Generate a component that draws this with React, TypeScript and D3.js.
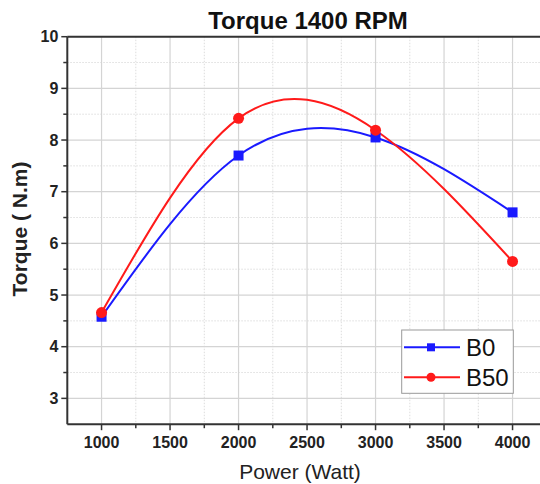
import React from "react";
import * as d3 from "d3";

const powers = [1000, 2000, 3000, 4000];
const torqueB0 = [4.58, 7.7, 8.05, 6.6];
const torqueB50 = [4.66, 8.42, 8.19, 5.65];
const xTicks = [1000, 1500, 2000, 2500, 3000, 3500, 4000];
const yTicks = [3, 4, 5, 6, 7, 8, 9, 10];
const seriesNames = ["B0", "B50"];

export default function App() {
  const W = 540, H = 484;
  const left = 67.3, top = 36.7, bottom = 424.2;
  const x = d3.scaleLinear().domain([750, 4250]).range([left, left + 3500 * 0.137]);
  const y = d3.scaleLinear().domain([2.5, 10]).range([bottom, top]);
  const xMinor = d3.range(1250, 4251, 500);
  const yMinor = d3.range(3.5, 10, 1);
  const line = d3.line<number>().x((_, i) => x(powers[i])).y((d) => y(d)).curve(d3.curveNatural);
  const blue = "#1a1aff";
  const red = "#ff1a1a";
  const right = x(4250);
  const font = "Arial, 'Liberation Sans', sans-serif";

  return (
    <svg width={W} height={H} style={{ position: "absolute", left: 0, top: 0, background: "#fff" }} fontFamily={font}>
      {/* grid */}
      {xMinor.map((v) => (
        <line key={"xm" + v} x1={x(v)} x2={x(v)} y1={top} y2={bottom} stroke="#ddd" strokeDasharray="1.5,1.5" strokeWidth={1} />
      ))}
      {yMinor.map((v) => (
        <line key={"ym" + v} x1={left} x2={right} y1={y(v)} y2={y(v)} stroke="#ddd" strokeDasharray="1.5,1.5" strokeWidth={1} />
      ))}
      {xTicks.map((v) => (
        <line key={"xg" + v} x1={x(v)} x2={x(v)} y1={top} y2={bottom} stroke="#d4d4d4" strokeWidth={1.2} />
      ))}
      {yTicks.map((v) => (
        <line key={"yg" + v} x1={left} x2={right} y1={y(v)} y2={y(v)} stroke="#d4d4d4" strokeWidth={1.2} />
      ))}
      {/* axes */}
      <line x1={left} x2={right} y1={top} y2={top} stroke="#333" strokeWidth={2} />
      <line x1={left} x2={right} y1={bottom} y2={bottom} stroke="#333" strokeWidth={2} />
      <line x1={left} x2={left} y1={top} y2={bottom} stroke="#333" strokeWidth={2} />
      {yTicks.map((v) => (
        <g key={"yt" + v}>
          <line x1={left - 6} x2={left} y1={y(v)} y2={y(v)} stroke="#333" strokeWidth={1.5} />
          <text x={left - 9} y={y(v)} dy="0.35em" textAnchor="end" fontSize={16} fontWeight="bold" fill="#222">{v}</text>
        </g>
      ))}
      {yMinor.map((v) => (
        <line key={"ymt" + v} x1={left - 4} x2={left} y1={y(v)} y2={y(v)} stroke="#333" strokeWidth={1.5} />
      ))}
      {xTicks.map((v) => (
        <g key={"xt" + v}>
          <line x1={x(v)} x2={x(v)} y1={bottom} y2={bottom + 6} stroke="#333" strokeWidth={1.5} />
          <text x={x(v)} y={bottom + 24} textAnchor="middle" fontSize={16} fontWeight="bold" fill="#222">{v}</text>
        </g>
      ))}
      {xMinor.map((v) => (
        <line key={"xmt" + v} x1={x(v)} x2={x(v)} y1={bottom} y2={bottom + 4} stroke="#333" strokeWidth={1.5} />
      ))}
      {/* titles */}
      <text x={308} y={29} textAnchor="middle" fontSize={24} fontWeight="bold" fill="#111">Torque 1400 RPM</text>
      <text x={300} y={479} textAnchor="middle" fontSize={21} fill="#222">Power (Watt)</text>
      <text transform={`translate(27,${229}) rotate(-90)`} textAnchor="middle" fontSize={21} fontWeight="bold" fill="#222">Torque ( N.m)</text>
      {/* lines */}
      <path d={line(torqueB0) || ""} fill="none" stroke={blue} strokeWidth={2} />
      <path d={line(torqueB50) || ""} fill="none" stroke={red} strokeWidth={2} />
      {torqueB0.map((v, i) => (
        <rect key={"b" + i} x={x(powers[i]) - 5} y={y(v) - 5} width={10} height={10} fill={blue} />
      ))}
      {torqueB50.map((v, i) => (
        <circle key={"r" + i} cx={x(powers[i])} cy={y(v)} r={5.5} fill={red} />
      ))}
      {/* legend */}
      <rect x={401.7} y={330} width={111.6} height={63.3} fill="#fff" stroke="#999" strokeWidth={1} />
      <line x1={404} x2={460} y1={347.3} y2={347.3} stroke={blue} strokeWidth={2} />
      <rect x={427} y={343.3} width={8} height={8} fill={blue} />
      <text x={466} y={347.3} dy="0.36em" fontSize={24} fill="#111">{seriesNames[0]}</text>
      <line x1={404} x2={460} y1={377.3} y2={377.3} stroke={red} strokeWidth={2} />
      <circle cx={431} cy={377.3} r={4.5} fill={red} />
      <text x={466} y={377.3} dy="0.36em" fontSize={24} fill="#111">{seriesNames[1]}</text>
    </svg>
  );
}
